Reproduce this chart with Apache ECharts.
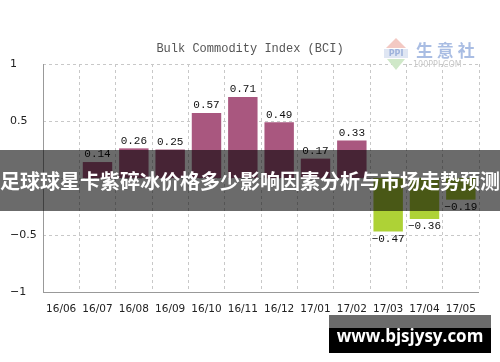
<!DOCTYPE html>
<html><head><meta charset="utf-8">
<script src="https://cdn.jsdelivr.net/npm/echarts@6/dist/echarts.min.js"></script>
<style>html,body{margin:0;padding:0;background:#fff}#c{width:500px;height:362px}</style>
</head><body><div id="c"></div>
<script>
const categories = ['16/06','16/07','16/08','16/09','16/10','16/11','16/12','17/01','17/02','17/03','17/04','17/05'];
const values = [null, 0.14, 0.26, 0.25, 0.57, 0.71, 0.49, 0.17, 0.33, -0.47, -0.36, -0.19];
const yTicks = [-1, -0.5, 0, 0.5, 1];
const titleText = 'Bulk Commodity Index (BCI)';
const bannerText = '足球球星卡紫碎冰价格多少影响因素分析与市场走势预测';
const siteText = 'www.bjsjysy.com';

const chart = echarts.init(document.getElementById('c'), null, {renderer: 'canvas'});
chart.setOption({
  animation: false,
  backgroundColor: '#fff',
  title: {
    text: titleText, left: 'center', top: 38,
    textStyle: {fontFamily: 'Liberation Mono', fontSize: 12, fontWeight: 'normal', color: '#555'}
  },
  grid: {left: 43, right: 21, top: 64, bottom: 70},
  xAxis: {
    type: 'category', data: categories,
    axisLine: {show: false},
    axisTick: {show: false},
    axisLabel: {fontFamily: 'DejaVu Sans', fontSize: 10.5, color: '#222', margin: 12, interval: 0},
    splitLine: {show: true, interval: 0, lineStyle: {type: [3, 3], color: '#c8c8c8'}}
  },
  yAxis: {
    type: 'value', min: -1, max: 1, interval: 0.5,
    axisLine: {show: false},
    axisTick: {show: false},
    axisLabel: {
      fontFamily: 'DejaVu Sans', fontSize: 11, color: '#222', align: 'left', margin: 33,
      formatter: v => yTicks.includes(v) && v !== 0 ? String(v).replace('-', '−') : ''
    },
    splitLine: {lineStyle: {type: [3, 3], color: '#c8c8c8'}}
  },
  series: [{
    type: 'bar',
    data: values.map(v => v === null ? null : {
      value: v,
      itemStyle: {color: v >= 0 ? '#a9577f' : '#aed236'},
      label: {position: v >= 0 ? 'top' : 'bottom'}
    }),
    barCategoryGap: '19%',
    label: {
      show: true, distance: 2,
      fontFamily: 'Liberation Mono', fontSize: 11, color: '#111',
      formatter: p => String(p.value).replace('-', '−')
    },
    z: 3
  }],
  graphic: [
    {type: 'line', shape: {x1: 43.5, y1: 64, x2: 43.5, y2: 292}, style: {stroke: '#999', lineWidth: 1}, z: 10},
    {type: 'line', shape: {x1: 43, y1: 292.5, x2: 479, y2: 292.5}, style: {stroke: '#999', lineWidth: 1}, z: 10},
    {type: 'polygon', shape: {points: [[396, 38], [386, 48], [406, 48]]}, style: {fill: '#f3c9c3'}, z: 20},
    {type: 'rect', shape: {x: 384, y: 49, width: 24, height: 9}, style: {fill: '#dfe6f3'}, z: 20},
    {type: 'text', style: {text: 'PPI', x: 396, y: 53.5, align: 'center', verticalAlign: 'middle', font: 'bold 8px DejaVu Sans', fill: '#9fb3dc'}, z: 21},
    {type: 'polygon', shape: {points: [[387, 59], [405, 59], [396, 70]]}, style: {fill: '#cfe8c8'}, z: 20},
    {type: 'text', style: {text: '生 意 社', x: 416, y: 51, verticalAlign: 'middle', font: 'bold 17px "Noto Sans CJK SC"', fill: '#a9bde3'}, z: 20},
    {type: 'text', style: {text: '100PPI.COM', x: 413, y: 65, verticalAlign: 'middle', font: '8px DejaVu Sans', fill: '#c8c8c8'}, z: 20},
    {type: 'rect', shape: {x: 0, y: 150, width: 500, height: 61}, style: {fill: 'rgba(0,0,0,0.58)'}, z: 50},
    {type: 'text', style: {text: bannerText, x: 250, y: 181, align: 'center', verticalAlign: 'middle', font: 'bold 20px "Noto Sans CJK SC"', fill: '#fff'}, z: 51},
    {type: 'rect', shape: {x: 329, y: 315, width: 162, height: 13}, style: {fill: 'rgba(0,0,0,0.58)'}, z: 50},
    {type: 'rect', shape: {x: 329, y: 328, width: 162, height: 25}, style: {fill: '#000'}, z: 50},
    {type: 'text', style: {text: siteText, x: 410, y: 337, align: 'center', verticalAlign: 'middle', font: 'bold 17px "Open Sans"', fill: '#fff'}, z: 51}
  ]
});
</script></body></html>
